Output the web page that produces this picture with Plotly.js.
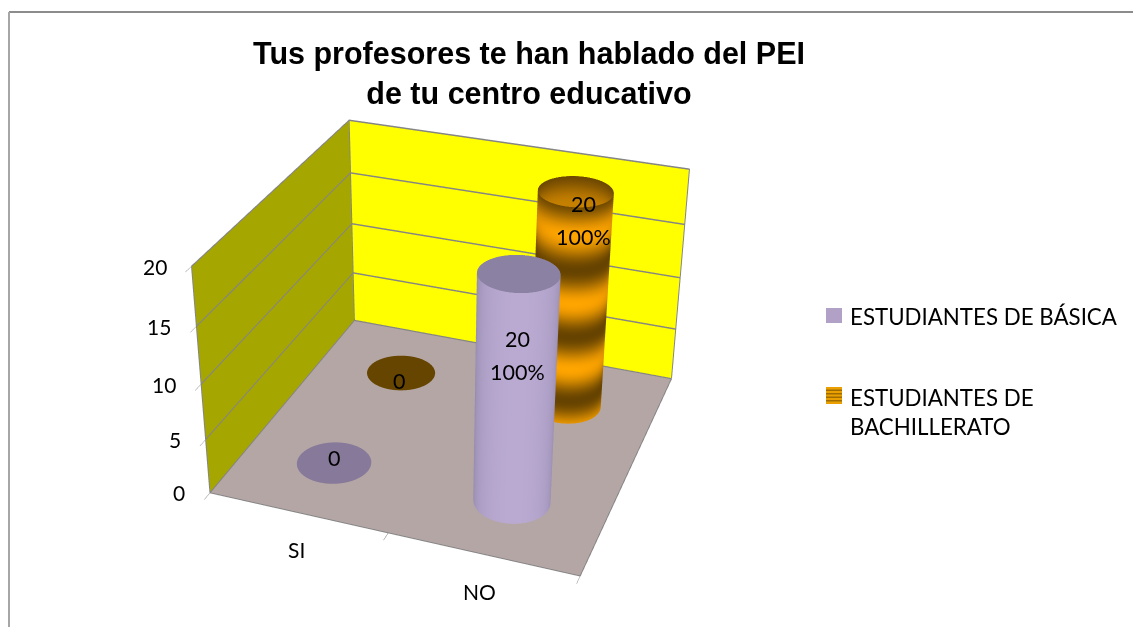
<!DOCTYPE html><html><head><meta charset="utf-8"><script src="https://cdn.plot.ly/plotly-3.0.1.min.js"></script>
<style>html,body{margin:0;padding:0;background:#fff;overflow:hidden;width:1133px;height:627px}#c{position:absolute;left:0;top:-345px}</style></head><body><div id="c"></div>
<script>
const categories=['SI','NO'];
const seriesNames=['ESTUDIANTES DE BÁSICA','ESTUDIANTES DE<br>BACHILLERATO'];
const basica=[0,20];
const bachillerato=[0,20];
const percentLabels=['','100%'];
const zTicks=[0,5,10,15,20];

const PAGE_W=1133,PLOT_H=1350,TOP=345;
const PX=x=>x/PAGE_W, PY=y=>1-(y+TOP)/PLOT_H;
const eye={x:1.273,y:-3.634,z:2.184},center={x:-0.058,y:-0.034,z:0};
const aspect={x:1.021,y:1,z:0.679};
const R=0.2, rowsY=[0.485,1.5];
const th=[];for(let i=0;i<=90;i++)th.push(i/90*2*Math.PI);
const viewAng=Math.atan2(eye.y,eye.x);
const edge=t=>Math.max(0,Math.cos(t-viewAng));
const flat={ambient:1,diffuse:0,specular:0,roughness:1,fresnel:0};
function side(xc,yc,val,shade,scale){
 const zs=[];for(let i=0;i<=100;i++)zs.push(val*i/100);
 return {type:'surface',showscale:false,hoverinfo:'skip',colorscale:scale,cmin:0,cmax:1,lighting:flat,
  x:zs.map(()=>th.map(t=>xc+R*Math.cos(t))),y:zs.map(()=>th.map(t=>yc+R*Math.sin(t))),z:zs.map(z=>th.map(()=>z)),
  surfacecolor:zs.map(z=>th.map(t=>shade(z,t)))};}
function disc(xc,yc,val,color){const rs=[0,1];
 return {type:'surface',showscale:false,hoverinfo:'skip',colorscale:[[0,color],[1,color]],cmin:0,cmax:1,lighting:flat,
  x:rs.map(a=>th.map(t=>xc+a*R*Math.cos(t))),y:rs.map(a=>th.map(t=>yc+a*R*Math.sin(t))),z:rs.map(()=>th.map(()=>val+0.06)),surfacecolor:rs.map(()=>th.map(()=>.5))};}
const traces=[];
const gl='#858585';
const zTop=zTicks[zTicks.length-1], xN=categories.length;
const wallPaths=[[[0,0,0],[xN,0,0],[xN,xN,0],[0,xN,0],[0,0,0]],[[0,0,0],[0,0,zTop],[0,xN,zTop],[xN,xN,zTop],[xN,xN,0]],[[0,xN,0],[0,xN,zTop]]];
wallPaths.forEach(path=>traces.push({type:'scatter3d',mode:'lines',hoverinfo:'skip',showlegend:false,x:path.map(a=>a[0]),y:path.map(a=>a[1]),z:path.map(a=>a[2]),line:{color:gl,width:2}}));
categories.forEach((c,i)=>{const xc=i+.5;
 if(bachillerato[i]>0)traces.push(side(xc,rowsY[1],bachillerato[i],(z,t)=>(0.5+0.5*Math.cos(2*Math.PI*(z-5.3)/6.1))*(0.62+0.38*Math.pow(edge(t),0.5)),[[0,'#664300'],[1,'#ffa500']]));
 traces.push(disc(xc,rowsY[1],bachillerato[i],'#664500'));
 if(basica[i]>0)traces.push(side(xc,rowsY[0],basica[i],(z,t)=>Math.pow(edge(t),0.6),[[0,'#8b81a3'],[1,'#baaad2']]));
 traces.push(disc(xc,rowsY[0],basica[i],'#87799a'));
});
const ann=[];
const tf={family:'Lato',size:21,color:'#000'};
zTicks.forEach(z=>ann.push({x:0,y:0,z:z,text:String(z),showarrow:false,xanchor:'right',xshift:-23,font:tf}));
const catShift=[-1,-3];
categories.forEach((c,i)=>ann.push({x:i+.5,y:0,z:0,text:c,showarrow:false,yshift:-37,xshift:catShift[i],font:tf}));
const lbl={family:'Lato',size:21.5,color:'#000'};
ann.push({x:.5,y:rowsY[0],z:basica[0],text:String(basica[0]),showarrow:false,yshift:5,font:lbl});
ann.push({x:.5,y:rowsY[1],z:bachillerato[0],text:String(bachillerato[0]),showarrow:false,yshift:-8,xshift:-2,font:lbl});
ann.push({x:1.5,y:rowsY[0],z:13.8,text:String(basica[1]),showarrow:false,yshift:9,xshift:1,font:lbl});
ann.push({x:1.5,y:rowsY[0],z:13.8,text:percentLabels[1],showarrow:false,yshift:-24,xshift:1,font:lbl});
ann.push({x:1.5,y:rowsY[1],z:18.3,text:String(bachillerato[1]),showarrow:false,yshift:7,xshift:9,font:lbl});
ann.push({x:1.5,y:rowsY[1],z:18.3,text:percentLabels[1],showarrow:false,yshift:-26,xshift:9,font:lbl});
const ax={showticklabels:false,showgrid:false,zeroline:false,showspikes:false,showline:false,title:{text:''},showbackground:true};
const shapes=[{type:'line',xref:'paper',yref:'paper',x0:PX(9),x1:PX(1133),y0:PY(12),y1:PY(12),line:{color:'#8c8c8c',width:2}},
 {type:'line',xref:'paper',yref:'paper',x0:PX(9),x1:PX(9),y0:PY(12),y1:PY(627),line:{color:'#a6a6a6',width:2}},
 {type:'rect',xref:'paper',yref:'paper',x0:PX(826),x1:PX(842),y0:PY(323),y1:PY(308),line:{width:0},fillcolor:'#b2a1c7'},
 {type:'rect',xref:'paper',yref:'paper',x0:PX(826),x1:PX(842),y0:PY(404),y1:PY(387),line:{width:0},fillcolor:'#e9a000'}];
[389.5,393,396.5,400].forEach(y=>shapes.push({type:'rect',xref:'paper',yref:'paper',x0:PX(826),x1:PX(842),y0:PY(y+1.5),y1:PY(y),line:{width:0},fillcolor:'#a06c00'}));
const lf={family:'Lato',size:22.3,color:'#000'};
const layout={width:PAGE_W,height:PLOT_H,margin:{l:0,r:0,t:0,b:0},paper_bgcolor:'#fff',showlegend:false,
 title:{text:'Tus profesores te han hablado del PEI<br>de tu centro educativo',x:PX(529),xanchor:'center',y:PY(64),yanchor:'top',font:{family:'Liberation Sans',size:30.5,color:'#000',weight:700}},
 scene:{domain:{x:[0,860/PAGE_W],y:[0,1]},aspectmode:'manual',aspectratio:aspect,camera:{eye,center,up:{x:0,y:0,z:1}},annotations:ann,dragmode:false,
  xaxis:Object.assign({},ax,{range:[0,xN],backgroundcolor:'#a6a600',tickvals:[0,1,2],ticks:'outside',ticklen:1,tickcolor:gl}),
  yaxis:Object.assign({},ax,{range:[0,xN],backgroundcolor:'#ffff00',tickvals:[]}),
  zaxis:Object.assign({},ax,{range:[0,zTop],backgroundcolor:'#b5a6a6',tickvals:zTicks,showgrid:true,gridcolor:gl,gridwidth:3,ticks:'outside',ticklen:1.3,tickcolor:gl})},
 shapes,
 annotations:[{xref:'paper',yref:'paper',x:PX(848),y:PY(316),xanchor:'left',text:seriesNames[0],showarrow:false,align:'left',font:lf},
  {xref:'paper',yref:'paper',x:PX(848),y:PY(412),xanchor:'left',text:seriesNames[1],showarrow:false,align:'left',font:lf}]};
Plotly.newPlot('c',traces,layout,{displayModeBar:false});
</script></body></html>
